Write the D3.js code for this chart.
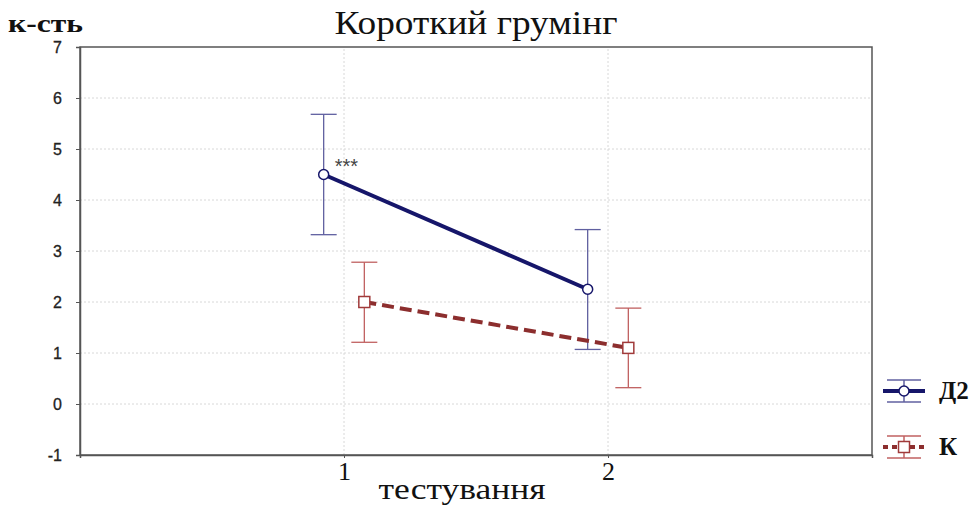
<!DOCTYPE html>
<html>
<head>
<meta charset="utf-8">
<script src="https://cdn.jsdelivr.net/npm/d3@7"></script>
<style>
body { margin: 0; background: #fff; }
</style>
</head>
<body>
<div id="container"></div>
<script>
// data
var tests = [1, 2];
var seriesNames = ["Д2", "К"];
var meanD2 = [4.5, 2.25];
var upperD2 = [5.68, 3.42];
var lowerD2 = [3.32, 1.07];
var meanK = [2.0, 1.1];
var upperK = [2.78, 1.88];
var lowerK = [1.21, 0.32];
var yTicks = [-1, 0, 1, 2, 3, 4, 5, 6, 7];
var xTicks = [1, 2];

(function()
{
	var width = 976, height = 506;
	var margin = {left: 80, top: 47, right: 104, bottom: 51};
	var serif = "Liberation Serif, Times New Roman, serif";
	var sans = "Liberation Sans, Arial, sans-serif";
	var svg = d3.select("#container").append("svg").attr("width", width).attr("height", height);

	var x = d3.scaleLinear().domain([0, 3]).range([margin.left, width - margin.right]);
	var y = d3.scaleLinear().domain([-1, 7]).range([height - margin.bottom, margin.top]);

	// grid
	svg.append("g").selectAll("line").data(yTicks.slice(1, -1)).enter().append("line")
		.attr("x1", x(0)).attr("x2", x(3)).attr("y1", d => y(d)).attr("y2", d => y(d))
		.attr("stroke", "#d8d8d8").attr("stroke-dasharray", "2,2");
	svg.append("g").selectAll("line").data(xTicks).enter().append("line")
		.attr("x1", d => x(d)).attr("x2", d => x(d)).attr("y1", y(-1)).attr("y2", y(7))
		.attr("stroke", "#d8d8d8").attr("stroke-dasharray", "2,2");

	// axes
	var yAxis = svg.append("g").attr("transform", "translate(" + x(0) + ",0)")
		.call(d3.axisLeft(y).tickValues(yTicks).tickFormat(d => String(d)).tickSize(4).tickPadding(14));
	yAxis.selectAll("text").attr("font-family", sans).attr("font-size", 16).attr("fill", "#222").attr("stroke", "#222").attr("stroke-width", 0.3);
	var xAxis = svg.append("g").attr("transform", "translate(0," + y(-1) + ")")
		.call(d3.axisBottom(x).tickValues(xTicks).tickFormat(d3.format("d")).tickSize(3).tickPadding(4));
	xAxis.selectAll("text").attr("font-family", serif).attr("font-size", 26).attr("fill", "#111");
	svg.selectAll(".domain").attr("stroke", "#555").attr("stroke-width", 1.5);
	svg.selectAll(".tick line").attr("stroke", "#555");

	// frame
	svg.append("rect").attr("x", x(0)).attr("y", y(7)).attr("width", x(3) - x(0)).attr("height", y(-1) - y(7))
		.attr("fill", "none").attr("stroke", "#555").attr("stroke-width", 1.5);

	var off = 0.077;
	var series = [
		{name: seriesNames[0], mean: meanD2, upper: upperD2, lower: lowerD2, dx: -off, line: "#16166a", bar: "#6060a0", dash: null},
		{name: seriesNames[1], mean: meanK, upper: upperK, lower: lowerK, dx: off, line: "#8c2e2e", bar: "#c06060", dash: "12,6"}
	];
	var cap = 13;

	series.forEach(function(s)
	{
		var g = svg.append("g");
		tests.forEach(function(t, i)
		{
			var cx = x(t + s.dx);
			g.append("line").attr("x1", cx).attr("x2", cx).attr("y1", y(s.upper[i])).attr("y2", y(s.lower[i])).attr("stroke", s.bar).attr("stroke-width", 1.3);
			g.append("line").attr("x1", cx - cap).attr("x2", cx + cap).attr("y1", y(s.upper[i])).attr("y2", y(s.upper[i])).attr("stroke", s.bar).attr("stroke-width", 1.3);
			g.append("line").attr("x1", cx - cap).attr("x2", cx + cap).attr("y1", y(s.lower[i])).attr("y2", y(s.lower[i])).attr("stroke", s.bar).attr("stroke-width", 1.3);
		});
		var line = d3.line().x((d, i) => x(tests[i] + s.dx)).y(d => y(d));
		g.append("path").datum(s.mean).attr("d", line).attr("fill", "none").attr("stroke", s.line)
			.attr("stroke-width", 4).attr("stroke-dasharray", s.dash);
	});

	// markers
	svg.append("g").selectAll("circle").data(meanD2).enter().append("circle")
		.attr("cx", (d, i) => x(tests[i] - off)).attr("cy", d => y(d)).attr("r", 5)
		.attr("fill", "#fff").attr("stroke", "#16166a").attr("stroke-width", 1.5);
	svg.append("g").selectAll("rect").data(meanK).enter().append("rect")
		.attr("x", (d, i) => x(tests[i] + off) - 5.5).attr("y", d => y(d) - 5.5).attr("width", 11).attr("height", 11)
		.attr("fill", "#fff").attr("stroke", "#a03a3a").attr("stroke-width", 1.5);

	svg.append("text").attr("x", x(1 - off) + 11).attr("y", y(meanD2[0]) - 2).text("***")
		.attr("font-family", sans).attr("font-size", 20).attr("fill", "#444");

	// titles
	svg.append("text").attr("x", 476).attr("y", 34).attr("text-anchor", "middle").text("Короткий грумінг")
		.attr("font-family", serif).attr("font-size", 33).attr("fill", "#111")
		.attr("textLength", 283).attr("lengthAdjust", "spacingAndGlyphs");
	svg.append("text").attr("x", 8).attr("y", 32).text("к-сть")
		.attr("font-family", serif).attr("font-size", 26).attr("font-weight", "bold").attr("fill", "#111")
		.attr("textLength", 75).attr("lengthAdjust", "spacingAndGlyphs");
	svg.append("text").attr("x", 462).attr("y", 499).attr("text-anchor", "middle").text("тестування")
		.attr("font-family", serif).attr("font-size", 29).attr("fill", "#111")
		.attr("textLength", 167).attr("lengthAdjust", "spacingAndGlyphs");

	// legend
	var lx = 883, lw = 42;
	var legend = svg.append("g");
	series.forEach(function(s, i)
	{
		var ly = 391 + i * 56;
		legend.append("line").attr("x1", lx + 4).attr("x2", lx + lw - 4).attr("y1", ly - 11).attr("y2", ly - 11).attr("stroke", s.bar).attr("stroke-width", 1.5);
		legend.append("line").attr("x1", lx + 4).attr("x2", lx + lw - 4).attr("y1", ly + 11).attr("y2", ly + 11).attr("stroke", s.bar).attr("stroke-width", 1.5);
		legend.append("line").attr("x1", lx).attr("x2", lx + lw).attr("y1", ly).attr("y2", ly).attr("stroke", s.line)
			.attr("stroke-width", 4).attr("stroke-dasharray", s.dash ? "5,4" : null);
		legend.append("line").attr("x1", lx + lw / 2).attr("x2", lx + lw / 2).attr("y1", ly - 11).attr("y2", ly + 11).attr("stroke", s.bar).attr("stroke-width", 1.5);
		if (i == 0)
			legend.append("circle").attr("cx", lx + lw / 2).attr("cy", ly).attr("r", 5).attr("fill", "#fff").attr("stroke", s.line).attr("stroke-width", 1.5);
		else
			legend.append("rect").attr("x", lx + lw / 2 - 5.5).attr("y", ly - 5.5).attr("width", 11).attr("height", 11).attr("fill", "#fff").attr("stroke", "#a03a3a").attr("stroke-width", 1.5);
		legend.append("text").attr("x", lx + lw + 14).attr("y", ly + 8).text(s.name)
			.attr("font-family", serif).attr("font-size", 25).attr("font-weight", "bold").attr("fill", "#111");
	});
})();
</script>
</body>
</html>
